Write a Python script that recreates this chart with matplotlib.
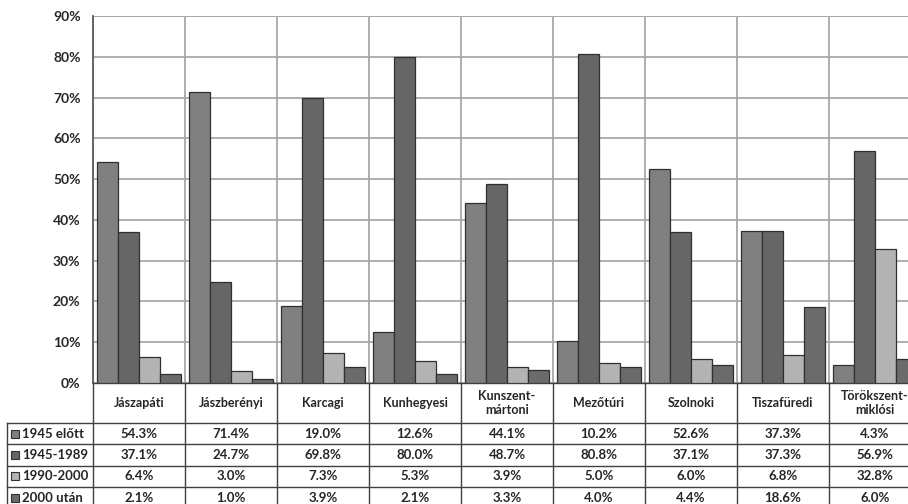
import numpy as np
import matplotlib.pyplot as plt
from matplotlib.patches import Rectangle
from matplotlib.transforms import blended_transform_factory

# data
# ----
categories = ['Jászapáti', 'Jászberényi', 'Karcagi', 'Kunhegyesi', 'Kunszent-\nmártoni',
              'Mezőtúri', 'Szolnoki', 'Tiszafüredi', 'Törökszent-\nmiklósi']
series = ['1945 előtt', '1945-1989', '1990-2000', '2000 után']
before_1945 = [54.3, 71.4, 19.0, 12.6, 44.1, 10.2, 52.6, 37.3, 4.3]
from_1945_to_1989 = [37.1, 24.7, 69.8, 80.0, 48.7, 80.8, 37.1, 37.3, 56.9]
from_1990_to_2000 = [6.4, 3.0, 7.3, 5.3, 3.9, 5.0, 6.0, 6.8, 32.8]
after_2000 = [2.1, 1.0, 3.9, 2.1, 3.3, 4.0, 4.4, 18.6, 6.0]
values = [before_1945, from_1945_to_1989, from_1990_to_2000, after_2000]
colors = ['#808080', '#666666', '#b3b3b3', '#6b6b6b']

# style
# -----
plt.rcParams['font.family'] = ['Lato', 'DejaVu Sans']
plt.rcParams['font.weight'] = 'bold'
text_color = '#262626'
line_color = '#404040'
grid_color = '#a8a8a8'
fs = 9.5

fig = plt.figure(figsize=(9.08, 5.04), dpi=100)
W, H = 908, 504
x0, y_top, y_bot, cat_w = 93, 16, 383, 92
ax = fig.add_axes([x0 / W, (H - y_bot) / H, 9 * cat_w / W, (y_bot - y_top) / H])
ax_h = y_bot - y_top

# bars
# ----
x = np.arange(len(categories))
bar_w = 0.228
for i, (vals, col) in enumerate(zip(values, colors)):
    ax.bar(x + (i - 1.5) * bar_w, vals, bar_w, color=col, edgecolor='#303030',
           linewidth=0.9, zorder=3)

ax.set_xlim(-0.5, len(categories) - 0.5)
ax.set_ylim(0, 90)
ax.set_yticks(np.arange(0, 91, 10))
ax.set_yticklabels([f'{v}%' for v in range(0, 91, 10)], fontsize=10, color=text_color,
                   fontweight='bold')
ax.tick_params(axis='y', length=0, pad=9)
ax.set_xticks([])
ax.set_xticks(np.arange(-0.5, len(categories)), minor=True)
ax.tick_params(axis='x', which='both', length=0)
ax.grid(which='major', axis='y', color=grid_color, linewidth=1.3, zorder=0)
ax.grid(which='minor', axis='x', color=grid_color, linewidth=1.3, zorder=0)
for s in ['top', 'right']:
    ax.spines[s].set_visible(False)
ax.spines['left'].set_color('#595959')
ax.spines['left'].set_linewidth(1.3)
ax.spines['bottom'].set_color(line_color)
ax.spines['bottom'].set_linewidth(1.0)
ax.axhline(90, color=grid_color, linewidth=1.3, zorder=0)

# data table below the plot
# -------------------------
def frac(y_px):
    return (y_bot - y_px) / ax_h

bt = blended_transform_factory(ax.transData, ax.transAxes)
at = ax.transAxes
header_bot = 423
row_h = 21.3
table_bot = header_bot + row_h * len(series)
left_px = 7
left_frac = (left_px - x0) / (9 * cat_w)

# vertical lines
for b in np.arange(-0.5, len(categories)):
    ax.plot([b, b], [0, frac(table_bot)], transform=bt, color=line_color,
            linewidth=1.0, clip_on=False)
ax.plot([left_frac, left_frac], [frac(header_bot), frac(table_bot)], transform=at,
        color=line_color, linewidth=1.0, clip_on=False)
# horizontal lines
for k in range(len(series) + 1):
    yy = frac(header_bot + k * row_h)
    ax.plot([left_frac, 1], [yy, yy], transform=at, color=line_color,
            linewidth=1.0, clip_on=False)

# header
for xi, name in zip(x, categories):
    ax.text(xi, frac((y_bot + header_bot) / 2), name, transform=bt, ha='center',
            va='center', fontsize=9, color=text_color, fontweight='bold',
            linespacing=1.15, clip_on=False)

# rows
key_frac = (11 - x0) / (9 * cat_w)
label_frac = (22 - x0) / (9 * cat_w)
for k, (name, vals, col) in enumerate(zip(series, values, colors)):
    yc = frac(header_bot + (k + 0.5) * row_h)
    ax.add_patch(Rectangle((key_frac, yc - 4 / ax_h), 8 / (9 * cat_w), 8 / ax_h,
                           transform=at, facecolor=col, edgecolor='#303030',
                           linewidth=0.8, clip_on=False))
    ax.text(label_frac, yc, name, transform=at, ha='left', va='center', fontsize=fs,
            color=text_color, fontweight='bold', clip_on=False)
    for xi, v in zip(x, vals):
        ax.text(xi, yc, f'{v:.1f}%', transform=bt, ha='center', va='center',
                fontsize=fs, color=text_color, fontweight='bold', clip_on=False)

fig.savefig('out.png', dpi=100)
